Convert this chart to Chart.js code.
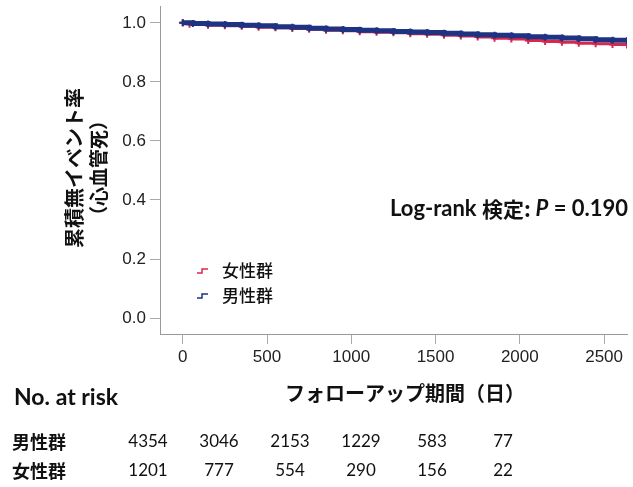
<!DOCTYPE html>
<html lang="ja">
<head>
<meta charset="utf-8">
<title>累積無イベント率（心血管死）</title>
<script src="https://cdn.jsdelivr.net/npm/chart.js@4.4.1/dist/chart.umd.min.js"></script>
<style>
  html, body { margin: 0; padding: 0; background: #fff; }
  #wrap { width: 633px; height: 487px; position: relative; }
</style>
</head>
<body>
<div id="wrap"><canvas id="KmChart" width="633" height="487"></canvas></div>
<script>
// follow-up days and survival estimates for each group
const maleDays = [0, 60, 150, 250, 350, 450, 550, 650, 750, 850, 950, 1050, 1150, 1250, 1350,
  1450, 1550, 1650, 1750, 1850, 1950, 2050, 2150, 2250, 2350, 2450, 2550, 2636];
const maleSurv = [1.000, 0.998, 0.996, 0.994, 0.992, 0.990, 0.987, 0.985, 0.982, 0.979, 0.977,
  0.975, 0.973, 0.971, 0.969, 0.967, 0.965, 0.962, 0.960, 0.958, 0.956, 0.953, 0.951, 0.949,
  0.946, 0.943, 0.941, 0.939];
const femaleDays = [0, 40, 150, 250, 350, 450, 550, 650, 750, 850, 950, 1050, 1150, 1250, 1350,
  1450, 1550, 1650, 1750, 1850, 1950, 2050, 2150, 2250, 2350, 2450, 2550, 2636];
const femaleSurv = [1.000, 0.995, 0.992, 0.990, 0.988, 0.985, 0.983, 0.981, 0.978, 0.975, 0.973,
  0.970, 0.968, 0.966, 0.963, 0.961, 0.958, 0.955, 0.952, 0.948, 0.945, 0.940, 0.937, 0.934,
  0.931, 0.929, 0.927, 0.925];

const xTicks = [0, 500, 1000, 1500, 2000, 2500];
const yTicks = [0, 0.2, 0.4, 0.6, 0.8, 1.0];

// number at risk table
const riskGroups = ["男性群", "女性群"];
const riskMale = [4354, 3046, 2153, 1229, 583, 77];
const riskFemale = [1201, 777, 554, 290, 156, 22];

const pValue = "0.190";

const NAVY = "#1f3383";
const RED = "#d8284e";
const JP = "'Noto Sans CJK JP', 'Noto Sans', sans-serif";
const LAT = "Lato, 'Open Sans', sans-serif";
const TICK_FONT = { family: "'Liberation Sans', Arial, sans-serif", size: 17 };

function toPoints(days, surv) {
  return days.map((d, i) => ({ x: d, y: surv[i] }));
}

const textPlugin = {
  id: "kmText",
  afterDraw(chart) {
    const ctx = chart.ctx;
    ctx.save();
    ctx.fillStyle = "#111";
    ctx.textBaseline = "middle";

    // y axis title, two rotated lines
    ctx.save();
    ctx.translate(74, 168);
    ctx.rotate(-Math.PI / 2);
    ctx.textAlign = "center";
    ctx.font = "bold 20px " + JP;
    ctx.fillText("累積無イベント率", 0, 0);
    ctx.font = "bold 19px " + JP;
    ctx.fillText("（心血管死）", 0, 25);
    ctx.restore();

    // x axis title
    ctx.textAlign = "center";
    ctx.font = "bold 20px " + JP;
    ctx.fillText("フォローアップ期間（日）", 405, 393);

    // legend
    const legend = [
      { label: "女性群", color: RED, y: 271 },
      { label: "男性群", color: NAVY, y: 296 },
    ];
    legend.forEach((item) => {
      ctx.strokeStyle = item.color;
      ctx.lineWidth = 1.5;
      ctx.beginPath();
      ctx.moveTo(197, item.y + 2);
      ctx.lineTo(202, item.y + 2);
      ctx.lineTo(202, item.y - 2);
      ctx.lineTo(208, item.y - 2);
      ctx.stroke();
      ctx.fillStyle = "#111";
      ctx.textAlign = "left";
      ctx.font = "500 17px " + JP;
      ctx.fillText(item.label, 222, item.y);
    });

    // log-rank annotation
    ctx.textAlign = "left";
    let x = 390;
    const parts = [
      { t: "Log-rank ", f: "bold 22px " + LAT },
      { t: "検定: ", f: "bold 21px " + JP },
      { t: "P", f: "italic bold 22px " + LAT },
      { t: " = " + pValue, f: "bold 22px " + LAT },
    ];
    parts.forEach((p) => {
      ctx.font = p.f;
      ctx.fillText(p.t, x, 209);
      x += ctx.measureText(p.t).width;
    });

    // number at risk
    ctx.font = "bold 23px " + LAT;
    ctx.fillText("No. at risk", 14, 398);
    const rows = [riskMale, riskFemale];
    const rowY = [442, 471];
    rows.forEach((row, r) => {
      ctx.textAlign = "left";
      ctx.font = "bold 18px " + JP;
      ctx.fillText(riskGroups[r], 12, rowY[r]);
      ctx.textAlign = "center";
      ctx.font = "17px " + LAT;
      row.forEach((n, i) => {
        ctx.fillText(String(n), 148 + i * 71, rowY[r]);
      });
    });

    ctx.restore();
  },
};

const kmChart = new Chart(document.getElementById("KmChart"), {
  type: "line",
  data: {
    datasets: [
      {
        label: "男性群",
        data: toPoints(maleDays, maleSurv),
        borderColor: NAVY,
        backgroundColor: NAVY,
        borderWidth: 5,
        stepped: "before",
        pointStyle: "cross",
        pointRadius: 3.5,
        pointBorderWidth: 2,
        pointBorderColor: NAVY,
      },
      {
        label: "女性群",
        data: toPoints(femaleDays, femaleSurv),
        borderColor: RED,
        backgroundColor: RED,
        borderWidth: 3,
        stepped: "before",
        pointStyle: "cross",
        pointRadius: 3.5,
        pointBorderWidth: 2,
        pointBorderColor: RED,
      },
    ],
  },
  options: {
    responsive: false,
    animation: false,
    events: [],
    layout: { padding: { top: 4, right: 0, bottom: 123, left: 0 } },
    plugins: { legend: { display: false }, tooltip: { enabled: false } },
    scales: {
      x: {
        type: "linear",
        min: -135,
        max: 2636,
        afterBuildTicks(scale) {
          scale.ticks = xTicks.map((v) => ({ value: v }));
        },
        afterFit(scale) {
          scale.height = 30;
          scale.paddingLeft = 0;
          scale.paddingRight = 0;
        },
        grid: { drawOnChartArea: false, tickLength: 10, color: "#aaa" },
        border: { color: "#999", width: 1 },
        ticks: {
          padding: 3,
          color: "#222",
          font: TICK_FONT,
          callback: (v) => String(v),
        },
      },
      y: {
        min: -0.054,
        max: 1.057,
        afterBuildTicks(scale) {
          scale.ticks = yTicks.map((v) => ({ value: v }));
        },
        afterFit(scale) {
          scale.width = 160;
          scale.paddingTop = 0;
          scale.paddingBottom = 0;
        },
        grid: { drawOnChartArea: false, tickLength: 10, color: "#aaa" },
        border: { color: "#999", width: 1 },
        ticks: {
          padding: 4,
          color: "#222",
          font: TICK_FONT,
          callback: (v) => Number(v).toFixed(1),
        },
      },
    },
  },
  plugins: [textPlugin],
});
</script>
</body>
</html>
